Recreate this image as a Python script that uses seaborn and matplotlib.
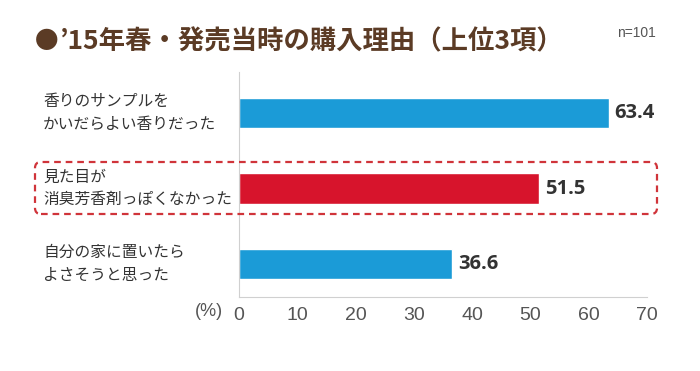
import pandas as pd
import seaborn as sns
import matplotlib.pyplot as plt
from matplotlib.patches import FancyBboxPatch
from matplotlib.transforms import IdentityTransform, blended_transform_factory

# data
reasons = ['香りのサンプルを\nかいだらよい香りだった',
           '見た目が\n消臭芳香剤っぽくなかった',
           '自分の家に置いたら\nよさそうと思った']
shares = [63.4, 51.5, 36.6]
bar_colors = ['#1b9bd7', '#d7142c', '#1b9bd7']
x_ticks = [0, 10, 20, 30, 40, 50, 60, 70]

df = pd.DataFrame({'reason': reasons, 'share': shares})

sns.set_style('white')
plt.rcParams['font.family'] = ['Noto Sans CJK JP', 'DejaVu Sans']

fig = plt.figure(figsize=(7, 3.71), dpi=100)
ax = fig.add_axes([239/700, 1 - 297/371, 408/700, 225/371])

sns.barplot(data=df, x='share', y='reason', hue='reason', palette=bar_colors,
            width=0.4, legend=False, ax=ax, orient='h', saturation=1)

ax.set_xlim(0, 70)
ax.set_ylim(2.437, -0.543)
ax.set_xticks(x_ticks)
ax.set_xticklabels([str(t) for t in x_ticks], fontsize=14, color='#555555',
                   family='Liberation Sans')
ax.tick_params(axis='x', direction='in', length=2, width=0.6,
               color='#cccccc', pad=7)
ax.set_yticks([])
ax.set_xlabel('')
ax.set_ylabel('')
for side in ['top', 'right']:
    ax.spines[side].set_visible(False)
for side in ['left', 'bottom']:
    ax.spines[side].set_color('#d0d0d0')
    ax.spines[side].set_linewidth(0.8)

# category labels, left aligned at the figure edge
trans = blended_transform_factory(fig.transFigure, ax.transData)
for i, r in enumerate(reasons):
    fig.text(43/700, i, r, transform=trans, ha='left', va='center',
             fontsize=11.3, color='#333333', linespacing=1.42)

# value labels
for i, v in enumerate(shares):
    ax.text(v + 1.0, i, f'{v}', ha='left', va='center', fontsize=14.5,
            fontweight='bold', color='#333333', family='Open Sans')

# unit label
fig.text(209/700, 1 - 312/371, '(%)', ha='center', va='center', fontsize=13,
         color='#555555', family='Liberation Sans')

# dashed highlight box around the middle row (pixel coords)
box = FancyBboxPatch((35, 371 - 214), 622, 52,
                     boxstyle='round,pad=0,rounding_size=6',
                     transform=IdentityTransform(), fill=False,
                     edgecolor='#d0343a', linewidth=1.6, linestyle=(0, (3, 2.2)))
fig.add_artist(box)

# title
fig.text(35/700, 1 - 42/371, '●', ha='left', va='center', fontsize=17,
         color='#5b3b25')
fig.text(60/700, 1 - 42/371, '’15年春・発売当時の購入理由（上位3項）', ha='left',
         va='center', fontsize=19, fontweight='bold', color='#5b3b25')
fig.text(656/700, 1 - 33/371, 'n=101', ha='right', va='center', fontsize=10,
         color='#555555', family='Liberation Sans')

fig.savefig('out.png', dpi=100)
